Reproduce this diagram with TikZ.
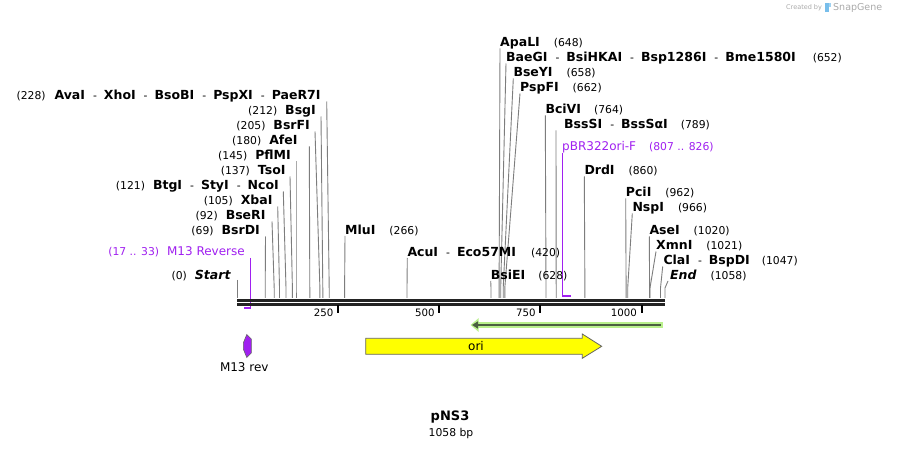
\documentclass[tikz,border=0pt]{standalone}
\usepackage{fontspec}
\setmainfont{DejaVu Sans}
\usetikzlibrary{arrows.meta}
\definecolor{sitecol}{RGB}{125,125,125}
\definecolor{featpurple}{RGB}{160,32,240}
\definecolor{bbcol}{RGB}{35,35,35}
\definecolor{oriyellow}{RGB}{255,255,0}
\definecolor{outlinegray}{RGB}{100,100,100}
\definecolor{primergreen}{RGB}{185,240,140}
\definecolor{primerdark}{RGB}{75,95,65}
\definecolor{logogray}{RGB}{170,170,170}
\definecolor{logoblue}{RGB}{120,190,235}
\newcommand\nm[1]{{\fontsize{12.5}{14}\selectfont\bfseries #1}}
\newcommand\nmi[1]{{\fontsize{12.5}{14}\selectfont\bfseries\itshape #1}}
\newcommand\dsh{\hspace{8pt}-\hspace{7pt}}
\newcommand\cutsite[4]{%
  \coordinate (#1-t) at (#3,#4);
  \coordinate (#1-k) at (#2,288);
  \coordinate (#1-b) at (#2,298);
  \draw[siteline] (#1-t) -- (#1-k) -- (#1-b);}
\begin{document}
\begin{tikzpicture}[x=1pt,y=-1pt,
  font=\fontsize{10.8}{13}\selectfont,
  siteline/.style={draw=sitecol,line width=0.9pt},
  featline/.style={draw=featpurple,line width=1.5pt},
  llab/.style={anchor=base east,inner sep=0pt},
  rlab/.style={anchor=base west,inner sep=0pt},
  backbone/.style={draw=bbcol,line width=3pt},
  tickmark/.style={draw=black,line width=2pt},
  ticklab/.style={anchor=base east,inner sep=0pt,font=\fontsize{10.2}{12}\selectfont},
  featlab/.style={inner sep=0pt,font=\fontsize{12}{14}\selectfont}]
\useasboundingbox (0,0) rectangle (903,449);
\fill[white] (0,0) rectangle (903,449);

% ---- cut-site lines ----
\cutsite{start}{237.3}{237.3}{280}
\cutsite{bsrdi}{265.2}{265.5}{236.5}
\cutsite{bseri}{274.2}{272}{221.5}
\cutsite{xbai}{279.5}{277.7}{206.5}
\cutsite{btgi}{286}{283.3}{191.5}
\cutsite{tsoi}{292.4}{290}{176.5}
\cutsite{pflmi}{296}{296}{161.5}
\cutsite{afei}{309.8}{309.3}{146.5}
\cutsite{bsrfi}{319.9}{315}{131.5}
\cutsite{bsgi}{322.8}{321}{116.5}
\cutsite{avai}{329.2}{326.7}{101.5}
\cutsite{mlui}{344.6}{345}{236}
\cutsite{acui}{407}{407.3}{258}
\cutsite{bsiei}{491}{490.7}{281}
\cutsite{apali}{499.1}{500}{48.5}
\cutsite{baegi}{500.7}{506}{63.5}
\cutsite{bseyi}{503.2}{513.3}{78.5}
\cutsite{pspfi}{504.8}{520}{93.5}
\cutsite{bcivi}{546}{545.3}{115.5}
\cutsite{bsssi}{556.2}{556}{130.5}
\cutsite{drdi}{584.9}{584.3}{176.5}
\cutsite{pcii}{626.1}{625.7}{198.5}
\cutsite{nspi}{627.7}{632.3}{213.5}
\cutsite{asei}{649.6}{649.3}{236.5}
\cutsite{xmni}{650}{656}{251.5}
\cutsite{clai}{660.5}{662.7}{266.5}
\cutsite{endsite}{665}{668}{281}

% ---- primer / feature brackets ----
\coordinate (m13t) at (250.3,258);
\coordinate (m13b) at (250.3,308);
\coordinate (m13e) at (244,308);
\draw[featline] (m13t) -- (m13b) -- (m13e);
\coordinate (pbrt) at (562.5,153);
\coordinate (pbrb) at (562.5,296);
\coordinate (pbre) at (570.5,296);
\draw[featline] (pbrt) -- (pbrb) -- (pbre);

% ---- backbone ----
\coordinate (bbL1) at (237,300.5); \coordinate (bbR1) at (665,300.5);
\coordinate (bbL2) at (237,304.5); \coordinate (bbR2) at (665,304.5);
\draw[backbone] (bbL1) -- (bbR1);
\draw[backbone] (bbL2) -- (bbR2);

% ---- ticks ----
\foreach \tx/\tl in {338/250,439.2/500,540.4/750,641.5/1000}{
  \coordinate (tk\tl a) at (\tx,305);
  \coordinate (tk\tl b) at (\tx,312.7);
  \draw[tickmark] (tk\tl a) -- (tk\tl b);
  \node[ticklab] (tl\tl) at (\tx-4.5,316.2) {\tl};
}

% ---- left labels ----
\node[llab] (l-start) at (230.7,279.4) {(0)\hspace{8pt}\nmi{Start}};
\node[llab,text=featpurple] (l-m13) at (245,255.9) {(17 .. 33)\hspace{8pt}{\fontsize{12}{14}\selectfont M13 Reverse}};
\node[llab] (l-bsrdi) at (260,234.4) {(69)\hspace{8pt}\nm{BsrDI}};
\node[llab] (l-bseri) at (265.7,219.4) {(92)\hspace{8pt}\nm{BseRI}};
\node[llab] (l-xbai) at (272.7,204.4) {(105)\hspace{8pt}\nm{XbaI}};
\node[llab] (l-btgi) at (279,189.4) {(121)\hspace{8pt}\nm{BtgI}\dsh\nm{StyI}\dsh\nm{NcoI}};
\node[llab] (l-tsoi) at (285.7,174.4) {(137)\hspace{8pt}\nm{TsoI}};
\node[llab] (l-pflmi) at (291,159.4) {(145)\hspace{8pt}\nm{PflMI}};
\node[llab] (l-afei) at (297.7,144.4) {(180)\hspace{8pt}\nm{AfeI}};
\node[llab] (l-bsrfi) at (310,129.4) {(205)\hspace{8pt}\nm{BsrFI}};
\node[llab] (l-bsgi) at (316,114.4) {(212)\hspace{8pt}\nm{BsgI}};
\node[llab] (l-avai) at (320.7,99.4) {(228)\hspace{9pt}\nm{AvaI}\dsh\nm{XhoI}\dsh\nm{BsoBI}\dsh\nm{PspXI}\dsh\nm{PaeR7I}};

% ---- right labels ----
\node[rlab] (r-mlui) at (345,234.4) {\nm{MluI}\hspace{14pt}(266)};
\node[rlab] (r-acui) at (407.3,256.4) {\nm{AcuI}\dsh\nm{Eco57MI}\hspace{15pt}(420)};
\node[rlab] (r-bsiei) at (490.7,279.4) {\nm{BsiEI}\hspace{13pt}(628)};
\node[rlab] (r-apali) at (500,46.4) {\nm{ApaLI}\hspace{14pt}(648)};
\node[rlab] (r-baegi) at (506,61.4) {\nm{BaeGI}\dsh\nm{BsiHKAI}\dsh\nm{Bsp1286I}\dsh\nm{Bme1580I}\hspace{17pt}(652)};
\node[rlab] (r-bseyi) at (513.3,76.4) {\nm{BseYI}\hspace{14pt}(658)};
\node[rlab] (r-pspfi) at (520,91.4) {\nm{PspFI}\hspace{14pt}(662)};
\node[rlab] (r-bcivi) at (545.3,113.4) {\nm{BciVI}\hspace{13pt}(764)};
\node[rlab] (r-bsssi) at (564,128.4) {\nm{BssSI}\dsh\nm{BssSαI}\hspace{13pt}(789)};
\node[rlab,text=featpurple] (r-pbr) at (562,150.4) {{\fontsize{12}{14}\selectfont pBR322ori-F}\hspace{13pt}(807 .. 826)};
\node[rlab] (r-drdi) at (584.3,174.4) {\nm{DrdI}\hspace{14pt}(860)};
\node[rlab] (r-pcii) at (625.7,196.4) {\nm{PciI}\hspace{14pt}(962)};
\node[rlab] (r-nspi) at (632.3,211.4) {\nm{NspI}\hspace{14pt}(966)};
\node[rlab] (r-asei) at (649.3,234.4) {\nm{AseI}\hspace{14pt}(1020)};
\node[rlab] (r-xmni) at (656,249.4) {\nm{XmnI}\hspace{14pt}(1021)};
\node[rlab] (r-clai) at (663.3,264.4) {\nm{ClaI}\dsh\nm{BspDI}\hspace{12pt}(1047)};
\node[rlab] (r-end) at (670,279.4) {\nmi{End}\hspace{14pt}(1058)};

% ---- green primer arrow ----
\coordinate (gA) at (662.5,325);
\coordinate (gB) at (470.5,325);
\coordinate (gA2) at (660.5,325);
\coordinate (gB2) at (472,325);
\draw[primergreen,line width=6.5pt,-{Triangle[length=8pt,width=13pt]}] (gA) -- (gB);
\draw[primerdark,line width=2.2pt,-{Triangle[length=6pt,width=7pt]}] (gA2) -- (gB2);

% ---- ori feature ----
\draw[fill=oriyellow,draw=outlinegray,line width=0.8pt]
  (365.7,338.3) -- (582.3,338.3) -- (582.3,334) -- (601.7,346.3)
  -- (582.3,358.3) -- (582.3,354.3) -- (365.7,354.3) -- cycle;
\node[featlab] (ori) at (476,346) {ori};

% ---- M13 rev feature ----
\draw[fill=featpurple,draw=outlinegray,line width=0.6pt]
  (246.8,334.5) -- (251.3,339) -- (251.3,353) -- (246.8,357.5)
  -- (243.3,349) -- (243.3,343) -- cycle;
\node[featlab] (m13rev) at (244.3,367.5) {M13 rev};

% ---- title ----
\node[inner sep=0pt,font=\fontsize{13}{15}\selectfont\bfseries] (title) at (450,417) {pNS3};
\node[inner sep=0pt,font=\fontsize{10.8}{13}\selectfont] (bp) at (451,433.5) {1058 bp};

% ---- logo ----
\node[anchor=base west,inner sep=0pt,text=logogray,font=\fontsize{6.5}{8}\selectfont] (cby) at (786,10) {Created by};
\fill[logoblue] (825,3) rectangle (828.5,12);
\fill[logoblue!70] (828.5,3) rectangle (831,7);
\node[anchor=base west,inner sep=0pt,text=logogray,font=\fontsize{9.5}{11}\selectfont] (sg) at (833,11) {SnapGene};
\end{tikzpicture}
\end{document}
